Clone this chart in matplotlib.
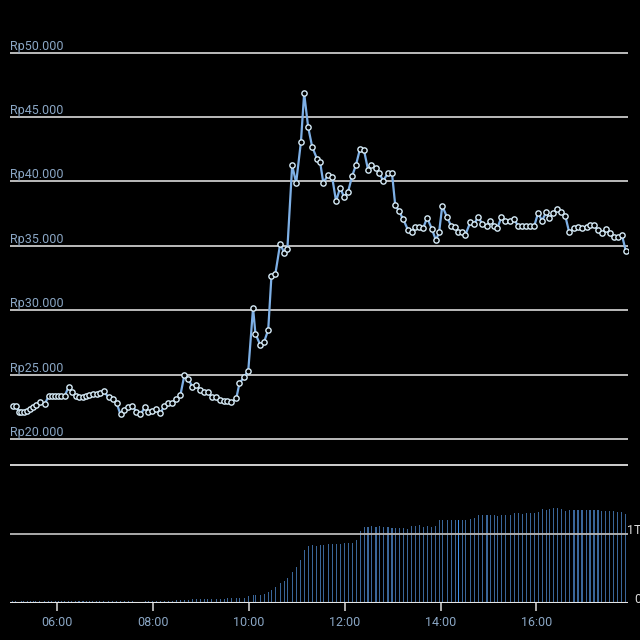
import matplotlib
matplotlib.use('Agg')
import matplotlib.pyplot as plt
import matplotlib.transforms as mtransforms

plt.rcParams['font.family'] = ['Roboto', 'DejaVu Sans']

# trade times, price (Rp) and cumulative traded value (trillion Rp)
times = [
    "05:04", "05:08", "05:12", "05:15", "05:18", "05:22", "05:26", "05:30", "05:33", "05:38",
    "05:44", "05:49", "05:53", "05:57", "06:01", "06:05", "06:09", "06:14", "06:18", "06:23",
    "06:27", "06:32", "06:36", "06:40", "06:44", "06:49", "06:53", "06:58", "07:04", "07:09",
    "07:14", "07:19", "07:24", "07:29", "07:34", "07:39", "07:44", "07:50", "07:54", "07:59",
    "08:04", "08:09", "08:14", "08:19", "08:24", "08:29", "08:34", "08:39", "08:44", "08:49",
    "08:54", "08:59", "09:04", "09:08", "09:13", "09:19", "09:24", "09:29", "09:33", "09:38",
    "09:44", "09:48", "09:54", "09:59", "10:05", "10:08", "10:14", "10:19", "10:24", "10:28",
    "10:33", "10:39", "10:44", "10:48", "10:54", "10:59", "11:05", "11:09", "11:14", "11:19",
    "11:25", "11:29", "11:33", "11:39", "11:44", "11:49", "11:54", "11:59", "12:04", "12:09",
    "12:14", "12:19", "12:24", "12:29", "12:33", "12:39", "12:43", "12:48", "12:54", "12:59",
    "13:03", "13:08", "13:13", "13:19", "13:24", "13:28", "13:33", "13:38", "13:43", "13:49",
    "13:54", "13:58", "14:02", "14:08", "14:13", "14:18", "14:22", "14:27", "14:31", "14:37",
    "14:42", "14:47", "14:52", "14:58", "15:02", "15:07", "15:11", "15:16", "15:21", "15:27",
    "15:32", "15:37", "15:42", "15:47", "15:52", "15:57", "16:02", "16:07", "16:12", "16:16",
    "16:21", "16:26", "16:31", "16:36", "16:41", "16:47", "16:52", "16:57", "17:03", "17:07",
    "17:12", "17:17", "17:22", "17:27", "17:32", "17:37", "17:42", "17:47", "17:52",
]

prices = [
    22580, 22580, 22070, 22070, 22070, 22170, 22300, 22500, 22640, 22890,
    22710, 23330, 23330, 23330, 23330, 23330, 23330, 24050, 23670, 23330,
    23230, 23230, 23330, 23390, 23490, 23490, 23590, 23720, 23230, 23100,
    22810, 21910, 22250, 22500, 22560, 22120, 21910, 22500, 22070, 22170,
    22300, 22040, 22560, 22760, 22810, 23070, 23410, 24960, 24650, 24050,
    24190, 23800, 23670, 23670, 23300, 23300, 23030, 22950, 22980, 22850,
    23160, 24330, 24840, 25290, 30170, 28170, 27310, 27570, 28480, 32630,
    32840, 35170, 34450, 34780, 41240, 39890, 43090, 46840, 44220, 42700,
    41760, 41500, 39890, 40520, 40340, 38460, 39500, 38800, 39190, 40390,
    41300, 42540, 42410, 40910, 41250, 41040, 40650, 40050, 40650, 40650,
    38190, 37670, 37070, 36240, 36110, 36450, 36450, 36370, 37180, 36300,
    35440, 36040, 38110, 37210, 36560, 36430, 36090, 36040, 35860, 36820,
    36690, 37260, 36690, 36560, 36950, 36560, 36380, 37210, 36950, 36950,
    37080, 36510, 36510, 36510, 36510, 36510, 37540, 36950, 37600, 37160,
    37540, 37860, 37600, 37330, 36040, 36350, 36430, 36350, 36430, 36610,
    36610, 36220, 35990, 36300, 35990, 35650, 35650, 35830, 34560,
]

volumes = [
    0.03, 0.03, 0.02, 0.03, 0.03, 0.03, 0.03, 0.03, 0.04, 0.03,
    0.03, 0.04, 0.03, 0.03, 0.03, 0.03, 0.03, 0.03, 0.03, 0.03,
    0.03, 0.03, 0.03, 0.03, 0.03, 0.03, 0.03, 0.03, 0.03, 0.03,
    0.03, 0.03, 0.03, 0.03, 0.03, 0.00, 0.00, 0.03, 0.04, 0.03,
    0.04, 0.04, 0.04, 0.04, 0.04, 0.05, 0.05, 0.05, 0.05, 0.06,
    0.06, 0.06, 0.06, 0.06, 0.06, 0.06, 0.06, 0.06, 0.07, 0.07,
    0.07, 0.07, 0.08, 0.10, 0.12, 0.12, 0.12, 0.13, 0.16, 0.20,
    0.24, 0.29, 0.33, 0.36, 0.46, 0.53, 0.63, 0.78, 0.83, 0.84,
    0.83, 0.84, 0.84, 0.86, 0.86, 0.86, 0.86, 0.88, 0.88, 0.88,
    0.92, 1.05, 1.10, 1.10, 1.12, 1.10, 1.12, 1.10, 1.10, 1.09,
    1.09, 1.09, 1.09, 1.08, 1.12, 1.12, 1.13, 1.11, 1.12, 1.10,
    1.12, 1.21, 1.21, 1.21, 1.21, 1.21, 1.21, 1.21, 1.21, 1.22,
    1.24, 1.28, 1.28, 1.28, 1.28, 1.28, 1.27, 1.28, 1.28, 1.28,
    1.31, 1.31, 1.30, 1.31, 1.31, 1.31, 1.32, 1.37, 1.36, 1.37,
    1.38, 1.38, 1.37, 1.34, 1.35, 1.35, 1.36, 1.35, 1.36, 1.35,
    1.36, 1.35, 1.34, 1.34, 1.34, 1.34, 1.33, 1.33, 1.30,
]

price_ticks = [20000, 25000, 30000, 35000, 40000, 45000, 50000]
price_labels = ["Rp20.000", "Rp25.000", "Rp30.000", "Rp35.000", "Rp40.000", "Rp45.000", "Rp50.000"]
vol_ticks = [0, 1]
vol_labels = ["0", "1T"]
hour_ticks = [6, 8, 10, 12, 14, 16]
hour_labels = ["06:00", "08:00", "10:00", "12:00", "14:00", "16:00"]
highlight = "14:22"

hours = [int(t[:2]) + int(t[3:]) / 60 for t in times]

label_c = '#8aa6c4'
grid_c = '#c9c9c9'
line_c = '#7eb0e6'
bar_c = '#3a6699'

fig = plt.figure(figsize=(6.4, 6.4), dpi=100, facecolor='black')
L, W = 10 / 640, 618 / 640

# price panel
ax = fig.add_axes([L, 1 - 455 / 640, W, 425 / 640])
ax.set_facecolor('black')
ax.set_xlim(5.01, 17.91)
ax.set_ylim(18760, 51755)
for y, lab in zip(price_ticks, price_labels):
    ax.axhline(y, color=grid_c, lw=1.3, zorder=1)
    ax.text(0, y, lab, transform=mtransforms.blended_transform_factory(ax.transAxes, ax.transData),
            ha='left', va='bottom', fontsize=9, color=label_c)
ax.plot(hours, prices, color=line_c, lw=1.6, marker='o', ms=3.8, mfc='black',
        mec='#d6ebf7', mew=1.0, zorder=3)
ax.axis('off')

# volume panel
ax2 = fig.add_axes([L, 1 - 603.3 / 640, W, 139.3 / 640])
ax2.set_facecolor('black')
ax2.set_xlim(5.01, 17.91)
ax2.set_ylim(0, 2.02)
bars = ax2.bar(hours, volumes, width=0.022, color=bar_c, linewidth=0, zorder=2)
bars[times.index(highlight)].set_color('#3f8fe6')
ax2.axhline(2, color='#e0e0e0', lw=1.3, zorder=1)
ax2.axhline(1, color='#b8b8b8', lw=1.3, zorder=3)
ax2.axhline(0, color='#e6e6e6', lw=1.5, zorder=3)
# value labels sit at the right edge and run past it, as in the app screenshot
for y, lab in zip(vol_ticks, vol_labels):
    ax2.text(1.021, y + 0.06, lab, transform=mtransforms.blended_transform_factory(ax2.transAxes, ax2.transData),
             ha='right', va='center', fontsize=9, color='#dddddd')
for s in ax2.spines.values():
    s.set_visible(False)
ax2.set_yticks([])
ax2.set_xticks(hour_ticks)
ax2.set_xticklabels(hour_labels)
ax2.tick_params(axis='x', length=6, width=1.2, color='#cccccc', labelcolor=label_c,
                labelsize=9, pad=3)

fig.savefig('out.png', dpi=100, facecolor='black')
